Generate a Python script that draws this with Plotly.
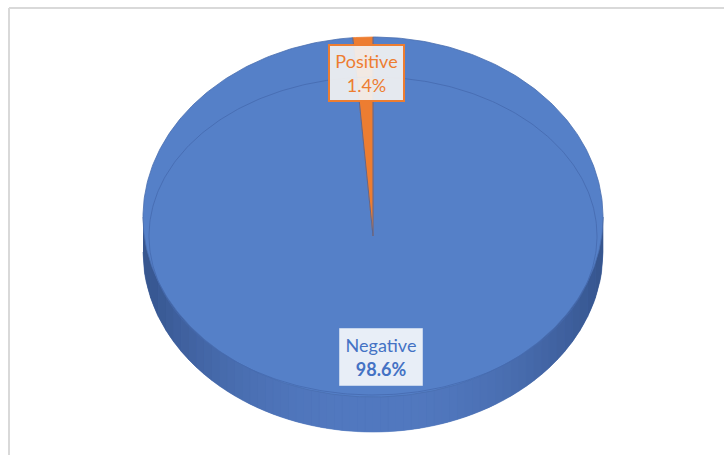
import numpy as np
import plotly.graph_objects as go

# ---- data ----
categories = ["Negative", "Positive"]
values = [98.6, 1.4]
slice_colors = ["#5580C8", "#ED7D31"]
label_colors = ["#4472C4", "#ED7D31"]

# ---- geometry (pixel space of a 724x455 canvas) ----
W, H = 724, 455
cx, cy = 373, 217          # centre of top face outline
rx, ry = 230, 180          # radii of top face outline
depth = 35                 # visible thickness of the pie
apex = (373, 236)          # apex of the wedges
irx, iry, icy = 224, 159, 236  # inner bevel outline

fig = go.Figure()

def ell(cxx, cyy, a, b, t):
    return cxx + a * np.cos(t), cyy - b * np.sin(t)

# side (base) silhouette
t = np.linspace(0, 2 * np.pi, 400)
sx, sy = ell(cx, cy + depth, rx, ry, t)
fig.add_trace(go.Scatter(x=sx, y=sy, fill="toself", fillcolor="#4A70B4",
                         line=dict(width=0), mode="lines", hoverinfo="skip"))

# side shading strips
n = 60
edges = np.linspace(cx - rx, cx + rx, n + 1)
for i in range(n):
    xs = np.linspace(edges[i], edges[i + 1], 6)
    u = np.clip((xs - cx) / rx, -1, 1)
    yt = cy + ry * np.sqrt(1 - u ** 2)
    yb = yt + depth
    xm = (edges[i] + edges[i + 1]) / 2 - cx
    k = abs(xm) / rx
    base = np.array([0x52, 0x79, 0xC0])
    dark = np.array([0x36, 0x55, 0x8E])
    f = k ** 2.2
    c = (base * (1 - f) + dark * f).astype(int)
    col = "rgb(%d,%d,%d)" % tuple(c)
    fig.add_trace(go.Scatter(x=np.concatenate([xs, xs[::-1]]),
                             y=np.concatenate([yt, yb[::-1]]),
                             fill="toself", fillcolor=col, line=dict(width=0.6, color=col),
                             mode="lines", hoverinfo="skip"))

# top face (slices) -- Excel: first slice starts at 12 o'clock, clockwise
total = sum(values)
start = np.pi / 2
for cat, v, col in zip(categories, values, slice_colors):
    sweep = 2 * np.pi * v / total
    tt = np.linspace(start, start - sweep, max(int(400 * v / total), 8))
    ex, ey = ell(cx, cy, rx, ry, tt)
    px = np.concatenate([[apex[0]], ex, [apex[0]]])
    py = np.concatenate([[apex[1]], ey, [apex[1]]])
    fig.add_trace(go.Scatter(x=px, y=py, fill="toself", fillcolor=col,
                             line=dict(width=0.8, color="#4A6FB0" if cat == "Negative" else col),
                             mode="lines", hoverinfo="skip", name=cat))
    start -= sweep

# inner bevel outline
bx, by = ell(cx, icy, irx, iry, t)
fig.add_trace(go.Scatter(x=bx, y=by, mode="lines", line=dict(width=0.8, color="#4569AE"),
                         hoverinfo="skip"))
# slice boundary lines
tb = np.pi / 2 - 2 * np.pi * values[0] / total
ex, ey = ell(cx, cy, rx, ry, np.array([np.pi / 2, tb]))
for X, Y in zip(ex, ey):
    fig.add_trace(go.Scatter(x=[apex[0], X], y=[apex[1], Y], mode="lines",
                             line=dict(width=0.8, color="#3E62A6"), hoverinfo="skip"))

# data labels
pct = [v / total * 100 for v in values]
fig.add_annotation(x=381, y=357, xref="x", yref="y",
                   text=f"{categories[0]}<br><b>{pct[0]:.1f}%</b>",
                   font=dict(family="Lato", size=18, color=label_colors[0]),
                   bgcolor="rgba(240,243,250,0.95)", bordercolor="rgba(255,255,255,0.4)",
                   borderwidth=1, borderpad=2, width=78, height=52, showarrow=False)
fig.add_annotation(x=366.5, y=72.5, xref="x", yref="y",
                   text=f"{categories[1]}<br>{pct[1]:.1f}%",
                   font=dict(family="Lato", size=18, color=label_colors[1]),
                   bgcolor="rgba(242,242,242,0.92)", bordercolor=label_colors[1],
                   borderwidth=2, borderpad=1, width=71, height=52, showarrow=False)

# chart frame
fig.add_shape(type="line", x0=9, y0=H, x1=9, y1=8, xref="x", yref="y",
              line=dict(color="#D9D9D9", width=2))
fig.add_shape(type="line", x0=9, y0=8, x1=W, y1=8, xref="x", yref="y",
              line=dict(color="#D9D9D9", width=2))

fig.update_layout(width=W, height=H, margin=dict(l=0, r=0, t=0, b=0),
                  paper_bgcolor="white", plot_bgcolor="white", showlegend=False,
                  xaxis=dict(range=[0, W], visible=False, fixedrange=True),
                  yaxis=dict(range=[H, 0], visible=False, fixedrange=True))
fig.write_html("out.html", config={"displayModeBar": False},
               post_script="document.body.style.margin='0';document.body.style.overflow='hidden';")
